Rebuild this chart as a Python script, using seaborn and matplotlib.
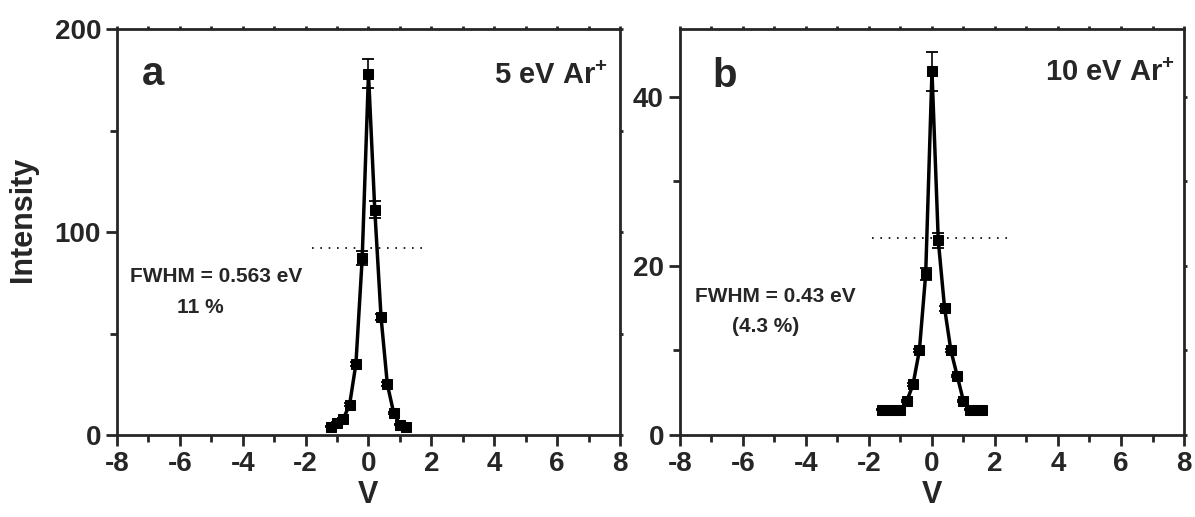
import numpy as np
import pandas as pd
import matplotlib
matplotlib.use("Agg")
import matplotlib.pyplot as plt
import seaborn as sns
from matplotlib.ticker import MultipleLocator

sns.set_style("ticks")
plt.rcParams['font.family'] = ['Liberation Sans', 'DejaVu Sans']
plt.rcParams['font.weight'] = 'bold'
plt.rcParams['axes.unicode_minus'] = False
plt.rcParams['mathtext.fontset'] = 'custom'
plt.rcParams['mathtext.bf'] = 'Liberation Sans:bold'
plt.rcParams['mathtext.rm'] = 'Liberation Sans:bold'
plt.rcParams['mathtext.default'] = 'bf'

# panel a: 5 eV Ar+
v_a = [-1.2, -1.0, -0.8, -0.6, -0.4, -0.2, 0.0, 0.2, 0.4, 0.6, 0.8, 1.0, 1.2]
int_a = [4, 6, 8, 15, 35, 87, 178, 111, 58, 25, 11, 5, 4]
err_a = [0.3, 0.4, 0.5, 0.8, 1.2, 3.4, 7, 4.3, 1.5, 1.0, 0.5, 0.3, 0.3]

# panel b: 10 eV Ar+
v_b = [-1.6, -1.4, -1.2, -1.0, -0.8, -0.6, -0.4, -0.2, 0.0, 0.2, 0.4, 0.6, 0.8, 1.0, 1.2, 1.4, 1.6]
int_b = [3, 3, 3, 3, 4, 6, 10, 19, 43, 23, 15, 10, 7, 4, 3, 3, 3]
err_b = [0.1, 0.1, 0.1, 0.1, 0.1, 0.15, 0.2, 0.7, 2.3, 0.9, 0.3, 0.2, 0.15, 0.1, 0.1, 0.1, 0.1]

# half maximum guide lines
half_a = 92
half_b = 23.3
span_a = [-1.8, 1.8]
span_b = [-1.9, 2.4]

fig = plt.figure(figsize=(11.95, 5.17), dpi=100)
ax1 = fig.add_axes([0.0979, 0.1586, 0.4209, 0.7853])
ax2 = fig.add_axes([0.569, 0.1586, 0.4218, 0.7853])


def draw_panel(ax, v, y, err, half, span, ymax, ymajor, yminor, letter, label, fwhm, pct,
               fw_pos, pct_pos, letter_pos, label_pos):
    df = pd.DataFrame({'V': v, 'Intensity': y})
    ax.errorbar(v, y, yerr=err, fmt='none', ecolor='black', elinewidth=1.2, capsize=4.5, capthick=1.3, zorder=2)
    sns.lineplot(data=df, x='V', y='Intensity', ax=ax, color='black', linewidth=2.5,
                 marker='s', markersize=7.5, markeredgecolor='black', markerfacecolor='black', zorder=3)
    ax.plot(span, [half, half], linestyle=(0, (1, 4)), color='black', linewidth=1.2)
    ax.set_xlim(-8, 8)
    ax.set_ylim(0, ymax)
    ax.xaxis.set_major_locator(MultipleLocator(2))
    ax.xaxis.set_minor_locator(MultipleLocator(1))
    ax.yaxis.set_major_locator(MultipleLocator(ymajor))
    ax.yaxis.set_minor_locator(MultipleLocator(yminor))
    ax.tick_params(axis='both', which='major', direction='out', length=8, width=2, labelsize=20)
    ax.tick_params(axis='both', which='minor', direction='out', length=5, width=2)
    ax.tick_params(axis='x', which='both', top=True)
    ax.tick_params(axis='y', which='both', right=True)
    ax.tick_params(axis='x', which='both', labeltop=False)
    ax.tick_params(axis='y', which='both', labelright=False)
    for t in ax.xaxis.get_major_ticks() + ax.xaxis.get_minor_ticks():
        t.tick2line.set_markersize(2.5)
    for t in ax.yaxis.get_major_ticks() + ax.yaxis.get_minor_ticks():
        t.tick2line.set_markersize(2.5)
    for side in ['top', 'right']:
        ax.spines[side].set_visible(True)
    for s in ax.spines.values():
        s.set_linewidth(2)
    ax.set_xlabel('V', fontsize=22, fontweight='bold', labelpad=2)
    ax.set_ylabel('')
    ax.text(letter_pos[0], letter_pos[1], letter, transform=ax.transAxes, fontsize=29, fontweight='bold', va='baseline')
    ax.text(label_pos[0], label_pos[1], label, transform=ax.transAxes, fontsize=21, fontweight='bold',
            va='baseline', ha='right')
    ax.text(fw_pos[0], fw_pos[1], fwhm, transform=ax.transAxes, fontsize=15, fontweight='bold', va='center')
    ax.text(pct_pos[0], pct_pos[1], pct, transform=ax.transAxes, fontsize=15, fontweight='bold', va='center')


draw_panel(ax1, v_a, int_a, err_a, half_a, span_a, 200, 100, 50, 'a', r'5 eV Ar$^{+}$',
           'FWHM = 0.563 eV', '11 %', (0.026, 0.39), (0.12, 0.313), (0.05, 0.862), (0.976, 0.866))
draw_panel(ax2, v_b, int_b, err_b, half_b, span_b, 48, 20, 10, 'b', r'10 eV Ar$^{+}$',
           'FWHM = 0.43 eV', '(4.3 %)', (0.03, 0.34), (0.103, 0.268), (0.064, 0.856), (0.982, 0.873))

ax1.set_ylabel('Intensity', fontsize=22, fontweight='bold')
ax1.yaxis.set_label_coords(-0.158, 0.53)

fig.savefig('out.png', dpi=100)
